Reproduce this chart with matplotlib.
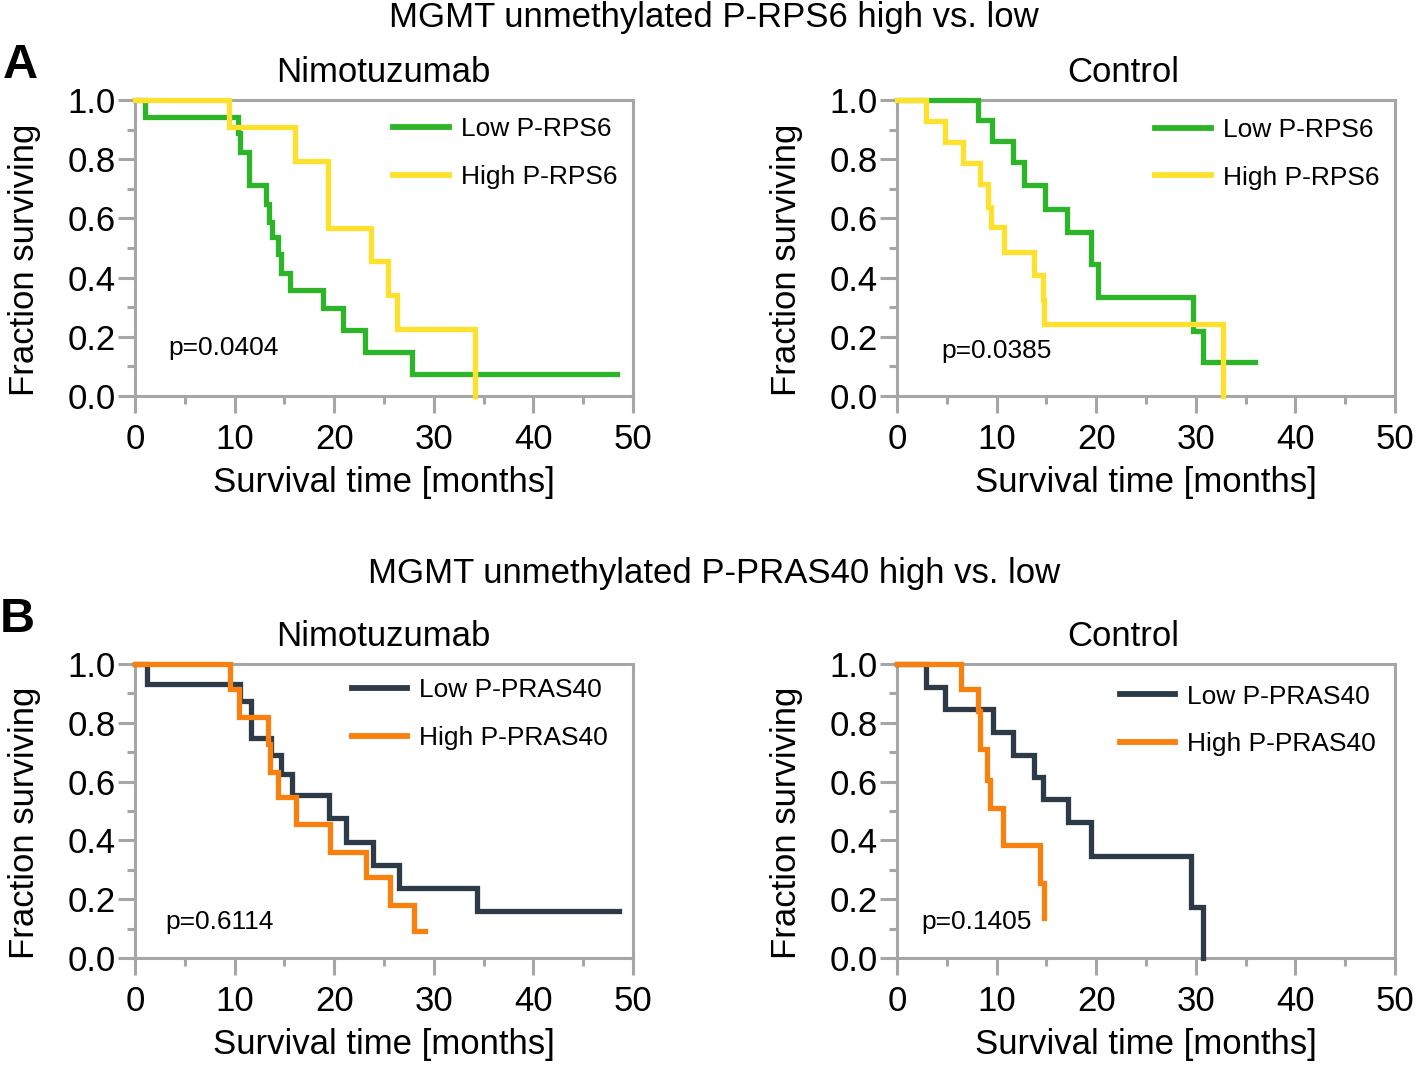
import matplotlib
matplotlib.use("Agg")
import matplotlib.pyplot as plt
from matplotlib.ticker import MultipleLocator
from matplotlib.lines import Line2D

plt.rcParams['font.family'] = ['Liberation Sans', 'DejaVu Sans']

# ---------------- data ----------------
# Panel A: MGMT unmethylated, P-RPS6
a_nimo_low_t = [1.0, 10.3, 10.55, 11.4, 13.2, 13.5, 13.8, 14.4, 14.7, 15.6, 18.9, 20.9, 23.1, 27.8, 48.4]
a_nimo_low_s = [0.944, 0.889, 0.826, 0.713, 0.650, 0.588, 0.536, 0.480, 0.417, 0.358, 0.298, 0.224, 0.150, 0.076, 0.076]
a_nimo_high_t = [9.45, 16.1, 19.4, 23.7, 25.4, 26.3, 34.1]
a_nimo_high_s = [0.909, 0.795, 0.568, 0.455, 0.341, 0.227, 0.0]

a_ctrl_low_t = [8.1, 9.55, 11.6, 12.8, 14.9, 17.1, 19.5, 20.2, 29.7, 30.7, 35.9]
a_ctrl_low_s = [0.934, 0.860, 0.792, 0.713, 0.633, 0.553, 0.445, 0.334, 0.220, 0.114, 0.114]
a_ctrl_high_t = [2.95, 4.8, 6.6, 8.3, 9.1, 9.4, 10.7, 13.8, 14.7, 14.8, 32.7]
a_ctrl_high_s = [0.928, 0.858, 0.786, 0.715, 0.640, 0.570, 0.485, 0.408, 0.323, 0.244, 0.0]

# Panel B: MGMT unmethylated, P-PRAS40
b_nimo_low_t = [1.2, 10.55, 11.6, 13.7, 14.7, 15.8, 19.5, 21.2, 23.9, 26.5, 34.3, 48.6]
b_nimo_low_s = [0.933, 0.874, 0.750, 0.689, 0.625, 0.555, 0.475, 0.396, 0.317, 0.238, 0.159, 0.159]
b_nimo_high_t = [9.5, 10.4, 13.4, 13.6, 14.4, 16.2, 19.6, 23.2, 25.6, 28.0, 29.1]
b_nimo_high_s = [0.914, 0.821, 0.727, 0.634, 0.546, 0.455, 0.362, 0.274, 0.181, 0.091, 0.091]

b_ctrl_low_t = [2.95, 4.8, 9.6, 11.6, 13.8, 14.7, 17.2, 19.5, 29.5, 30.7]
b_ctrl_low_s = [0.923, 0.846, 0.768, 0.692, 0.614, 0.541, 0.461, 0.348, 0.172, 0.0]
b_ctrl_high_t = [6.4, 8.1, 8.3, 9.0, 9.3, 10.6, 14.4, 14.75]
b_ctrl_high_s = [0.915, 0.840, 0.710, 0.606, 0.510, 0.383, 0.255, 0.136]

labels_a = ["Low P-RPS6", "High P-RPS6"]
labels_b = ["Low P-PRAS40", "High P-PRAS40"]
pvals = ["p=0.0404", "p=0.0385", "p=0.6114", "p=0.1405"]
subtitles = ["Nimotuzumab", "Control"]
suptitle_a = "MGMT unmethylated P-RPS6 high vs. low"
suptitle_b = "MGMT unmethylated P-PRAS40 high vs. low"
xticks = [0, 10, 20, 30, 40, 50]
yticks = [0.0, 0.2, 0.4, 0.6, 0.8, 1.0]

GREEN = "#2db52a"
YELLOW = "#fde12d"
DARK = "#2c3b47"
ORANGE = "#f7800f"
GREY = "#a6a6a6"

W, H = 1418, 1066
fig = plt.figure(figsize=(W / 100, H / 100), dpi=100)


def axes_px(left, top, right, bottom):
    return fig.add_axes([left / W, 1 - bottom / H, (right - left) / W, (bottom - top) / H])


def km(ax, t, s, color):
    x = [0.0] + list(t)
    y = [1.0] + list(s)
    ax.plot(x, y, drawstyle="steps-post", color=color, lw=3.8, clip_on=False,
            zorder=5, solid_joinstyle="miter")


def style(ax):
    ax.set_xlim(0, 50)
    ax.set_ylim(0, 1)
    ax.set_xticks(xticks)
    ax.set_yticks(yticks)
    ax.set_yticklabels([f"{v:.1f}" for v in yticks])
    ax.xaxis.set_minor_locator(MultipleLocator(5))
    ax.yaxis.set_minor_locator(MultipleLocator(0.1))
    for sp in ax.spines.values():
        sp.set_color(GREY)
        sp.set_linewidth(2.2)
    ax.tick_params(which="major", direction="out", length=12, width=2.2,
                   color=GREY, labelsize=25, labelcolor="black")
    ax.tick_params(which="minor", direction="out", length=6, width=2.2, color=GREY)
    ax.tick_params(axis="y", pad=2)
    ax.tick_params(axis="x", pad=7.5)
    ax.set_xlabel("Survival time [months]", fontsize=25, labelpad=7)
    ax.set_ylabel("Fraction surviving", fontsize=25, labelpad=19, y=0.46)


panels = [
    # (left, top, right, bottom), low, high, colors, labels, legend anchor, pval, pval pos, title, title x
    ((135, 100, 633, 396), (a_nimo_low_t, a_nimo_low_s), (a_nimo_high_t, a_nimo_high_s),
     (GREEN, YELLOW), labels_a, (0.519, 0.941), pvals[0], (0.066, 0.162), subtitles[0], 0.498),
    ((897, 100, 1395, 396), (a_ctrl_low_t, a_ctrl_low_s), (a_ctrl_high_t, a_ctrl_high_s),
     (GREEN, YELLOW), labels_a, (0.519, 0.94), pvals[1], (0.090, 0.152), subtitles[1], 0.454),
    ((135, 664, 633, 958), (b_nimo_low_t, b_nimo_low_s), (b_nimo_high_t, b_nimo_high_s),
     (DARK, ORANGE), labels_b, (0.435, 0.951), pvals[2], (0.060, 0.122), subtitles[0], 0.498),
    ((897, 664, 1395, 958), (b_ctrl_low_t, b_ctrl_low_s), (b_ctrl_high_t, b_ctrl_high_s),
     (DARK, ORANGE), labels_b, (0.447, 0.93), pvals[3], (0.048, 0.122), subtitles[1], 0.454),
]

for box, low, high, cols, labs, lpos, ptxt, ppos, ttl, tx in panels:
    ax = axes_px(*box)
    style(ax)
    km(ax, low[0], low[1], cols[0])
    km(ax, high[0], high[1], cols[1])
    handles = [Line2D([], [], color=cols[0], lw=4.2), Line2D([], [], color=cols[1], lw=4.2)]
    ax.legend(handles, labs, loc="upper left", bbox_to_anchor=lpos, frameon=False,
              fontsize=19, handlelength=2.1, handletextpad=0.45, labelspacing=0.9,
              borderpad=0, borderaxespad=0)
    ax.text(ppos[0], ppos[1], ptxt, transform=ax.transAxes, fontsize=19,
            ha="left", va="center")
    ax.text(tx, 1.0 + 28 / (box[3] - box[1]), ttl, transform=ax.transAxes, fontsize=25,
            ha="center", va="center")

fig.text(714 / W, 1 - 17 / H, suptitle_a, fontsize=25, ha="center", va="center")
fig.text(714 / W, 1 - 574 / H, suptitle_b, fontsize=25, ha="center", va="center")
fig.text(20 / W, 1 - 66 / H, "A", fontsize=35, fontweight="bold", ha="center", va="center")
fig.text(17 / W, 1 - 620 / H, "B", fontsize=35, fontweight="bold", ha="center", va="center")

fig.savefig("out.png", dpi=100, facecolor="white")
